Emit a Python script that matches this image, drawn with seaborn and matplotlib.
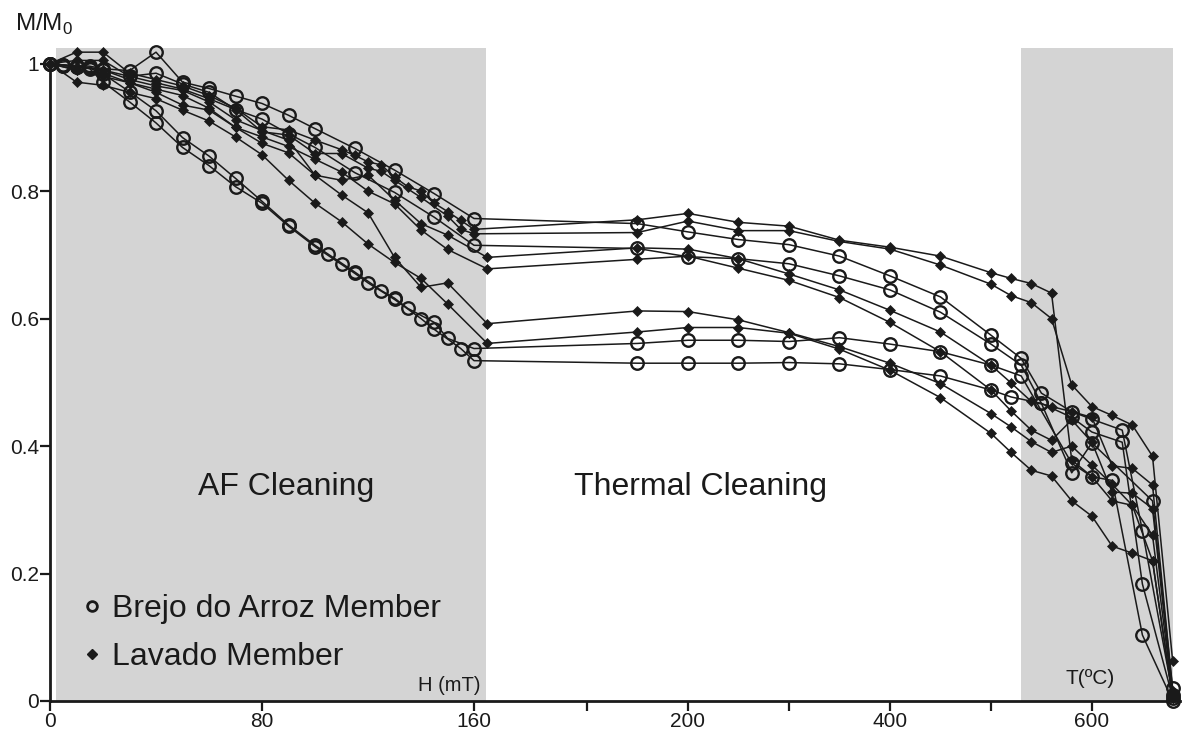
import numpy as np
import pandas as pd
import matplotlib
matplotlib.use('Agg')
import matplotlib.pyplot as plt
from matplotlib.lines import Line2D
import seaborn as sns

# ---- data ----
# AF steps (mT) / thermal steps (degC) and M/M0 for each specimen
# Brejo do Arroz Member (open circles)
c1_af_h = [0, 5, 10, 15, 20, 30, 40, 50, 60, 70, 80, 90, 100, 115, 130, 145, 160]
c1_af_m = [1.0, 0.998, 0.997, 0.996, 0.992, 0.989, 1.018, 0.971, 0.961, 0.949, 0.9375, 0.919, 0.898, 0.867, 0.833, 0.796, 0.757]
c1_th_t = [150, 200, 250, 300, 350, 400, 450, 500, 530, 550, 580, 600, 630, 650, 680]
c1_th_m = [0.749, 0.736, 0.724, 0.716, 0.698, 0.667, 0.634, 0.574, 0.5375, 0.483, 0.454, 0.442, 0.425, 0.267, 0.010]

c2_af_h = [0, 5, 10, 15, 20, 30, 40, 50, 60, 70, 80, 90, 100, 115, 130, 145, 160]
c2_af_m = [1.0, 0.997, 0.995, 0.994, 0.990, 0.980, 0.985, 0.968, 0.955, 0.928, 0.913, 0.890, 0.8685, 0.829, 0.798, 0.759, 0.715]
c2_th_t = [150, 200, 250, 300, 350, 400, 450, 500, 530, 550, 580, 600, 630, 650, 680]
c2_th_m = [0.710, 0.697, 0.694, 0.686, 0.667, 0.645, 0.610, 0.560, 0.527, 0.467, 0.445, 0.422, 0.406, 0.1835, 0.005]

c3_af_h = [0, 5, 10, 15, 20, 30, 40, 50, 60, 70, 80, 90, 100, 105, 115, 125, 130, 135, 145, 150, 160]
c3_af_m = [1.0, 0.998, 0.996, 0.993, 0.984, 0.956, 0.926, 0.884, 0.855, 0.820, 0.784, 0.747, 0.715, 0.701, 0.673, 0.644, 0.632, 0.616, 0.594, 0.569, 0.553]
c3_th_t = [150, 200, 250, 300, 350, 400, 450, 500, 530, 580, 600, 620, 650, 680]
c3_th_m = [0.561, 0.566, 0.566, 0.564, 0.570, 0.560, 0.548, 0.527, 0.510, 0.373, 0.352, 0.346, 0.1035, 0.0]

c4_af_h = [0, 5, 10, 15, 20, 30, 40, 50, 60, 70, 80, 90, 100, 110, 115, 120, 130, 140, 145, 155, 160]
c4_af_m = [1.0, 0.997, 0.995, 0.992, 0.971, 0.940, 0.907, 0.8685, 0.840, 0.807, 0.781, 0.745, 0.713, 0.685, 0.671, 0.656, 0.630, 0.600, 0.583, 0.553, 0.534]
c4_th_t = [150, 200, 250, 300, 350, 400, 450, 500, 520, 550, 580, 600, 660, 680]
c4_th_m = [0.530, 0.530, 0.530, 0.531, 0.529, 0.520, 0.510, 0.488, 0.477, 0.467, 0.358, 0.405, 0.314, 0.02]

# Lavado Member (filled diamonds)
d_th_t = [150, 200, 250, 300, 350, 400, 450, 500, 520, 540, 560, 580, 600, 620, 640, 660, 680]

d1_af_h = [0, 10, 20, 30, 40, 50, 60, 70, 80, 90, 100, 110, 115, 120, 125, 130, 135, 140, 145, 150, 155, 160]
d1_af_m = [1.0, 1.018, 1.018, 0.985, 0.975, 0.965, 0.950, 0.930, 0.901, 0.896, 0.880, 0.865, 0.856, 0.846, 0.841, 0.822, 0.807, 0.800, 0.781, 0.768, 0.754, 0.740]
d1_th_m = [0.755, 0.765, 0.751, 0.745, 0.723, 0.712, 0.698, 0.672, 0.663, 0.655, 0.640, 0.378, 0.352, 0.314, 0.307, 0.260, 0.010]

d2_af_h = [0, 10, 20, 30, 40, 50, 60, 70, 80, 90, 100, 110, 120, 125, 130, 140, 150, 155, 160]
d2_af_m = [1.0, 1.005, 1.005, 0.980, 0.970, 0.960, 0.945, 0.928, 0.893, 0.888, 0.859, 0.859, 0.836, 0.831, 0.817, 0.790, 0.761, 0.740, 0.733]
d2_th_m = [0.735, 0.753, 0.738, 0.738, 0.721, 0.709, 0.684, 0.654, 0.636, 0.625, 0.600, 0.496, 0.462, 0.448, 0.433, 0.384, 0.062]

d_af_h = [0, 10, 20, 30, 40, 50, 60, 70, 80, 90, 100, 110, 120, 130, 140, 150, 165]
d3_af_m = [1.0, 0.995, 0.990, 0.975, 0.965, 0.958, 0.940, 0.912, 0.895, 0.880, 0.825, 0.817, 0.825, 0.786, 0.749, 0.731, 0.696]
d3_th_m = [0.711, 0.709, 0.694, 0.670, 0.645, 0.613, 0.579, 0.527, 0.499, 0.470, 0.462, 0.454, 0.445, 0.369, 0.365, 0.339, 0.015]
d4_af_m = [1.0, 0.990, 0.980, 0.970, 0.960, 0.950, 0.930, 0.900, 0.885, 0.870, 0.850, 0.830, 0.800, 0.780, 0.739, 0.7085, 0.678]
d4_th_m = [0.693, 0.698, 0.679, 0.660, 0.633, 0.594, 0.548, 0.488, 0.455, 0.425, 0.409, 0.441, 0.406, 0.328, 0.326, 0.302, 0.010]
d5_af_m = [1.0, 0.990, 0.985, 0.970, 0.955, 0.935, 0.927, 0.900, 0.875, 0.860, 0.825, 0.794, 0.766, 0.696, 0.649, 0.656, 0.592]
d5_th_m = [0.612, 0.611, 0.598, 0.578, 0.556, 0.530, 0.498, 0.451, 0.430, 0.407, 0.390, 0.400, 0.370, 0.340, 0.307, 0.220, 0.005]
d6_af_m = [1.0, 0.971, 0.966, 0.955, 0.945, 0.927, 0.910, 0.885, 0.857, 0.817, 0.781, 0.752, 0.717, 0.688, 0.663, 0.623, 0.561]
d6_th_m = [0.579, 0.586, 0.586, 0.577, 0.552, 0.519, 0.476, 0.420, 0.390, 0.362, 0.353, 0.314, 0.290, 0.243, 0.232, 0.220, 0.005]

brejo = 'Brejo do Arroz Member'
lavado = 'Lavado Member'


# the x axis is split: AF field (mT) on the left, temperature (degC) on the right
def pos_af(h):
    return np.asarray(h, float)


def pos_th(t):
    return 164.5 + 0.3811 * np.asarray(t, float)


series = [
    ('c1', brejo, c1_af_h, c1_af_m, c1_th_t, c1_th_m),
    ('c2', brejo, c2_af_h, c2_af_m, c2_th_t, c2_th_m),
    ('c3', brejo, c3_af_h, c3_af_m, c3_th_t, c3_th_m),
    ('c4', brejo, c4_af_h, c4_af_m, c4_th_t, c4_th_m),
    ('d1', lavado, d1_af_h, d1_af_m, d_th_t, d1_th_m),
    ('d2', lavado, d2_af_h, d2_af_m, d_th_t, d2_th_m),
    ('d3', lavado, d_af_h, d3_af_m, d_th_t, d3_th_m),
    ('d4', lavado, d_af_h, d4_af_m, d_th_t, d4_th_m),
    ('d5', lavado, d_af_h, d5_af_m, d_th_t, d5_th_m),
    ('d6', lavado, d_af_h, d6_af_m, d_th_t, d6_th_m),
]

rows = []
for name, member, ah, am, tt, tm in series:
    x = np.concatenate([pos_af(ah), pos_th(tt)])
    y = np.concatenate([am, tm])
    rows.append(pd.DataFrame({'sample': name, 'member': member, 'pos': x, 'M': y}))
df = pd.concat(rows, ignore_index=True)

sns.set_style('ticks')
plt.rcParams['font.family'] = ['Liberation Sans', 'DejaVu Sans']
plt.rcParams['mathtext.fontset'] = 'custom'
plt.rcParams['mathtext.rm'] = 'Liberation Sans'

ink = '#1a1a1a'
fig = plt.figure(figsize=(11.82, 7.32), dpi=100)
ax = fig.add_axes([50 / 1182, 31 / 732, 1130 / 1182, 653.3 / 732])

# shaded AF and high-temperature zones
ax.axvspan(2.3, 164.4, color='#d4d4d4', lw=0, zorder=0)
ax.axvspan(pos_th(530), pos_th(680), color='#d4d4d4', lw=0, zorder=0)

sns.lineplot(data=df[df.member == lavado], x='pos', y='M', units='sample', estimator=None,
             sort=False, color=ink, lw=1.1, marker='D', markersize=5.5, markerfacecolor=ink,
             markeredgecolor=ink, markeredgewidth=0.5, clip_on=False, ax=ax, legend=False)
sns.lineplot(data=df[df.member == brejo], x='pos', y='M', units='sample', estimator=None,
             sort=False, color=ink, lw=1.1, marker='o', markersize=9, markerfacecolor='none',
             markeredgecolor=ink, markeredgewidth=1.7, clip_on=False, ax=ax, legend=False)

ax.set_xlim(0, 426.4)
ax.set_ylim(0, 1.025)

xt = list(pos_af([0, 80, 160])) + list(pos_th([100, 200, 300, 400, 500, 600]))
xl = ['0', '80', '160', '', '200', '', '400', '', '600']
ax.set_xticks(xt)
ax.set_xticklabels(xl)
ax.set_yticks([0, 0.2, 0.4, 0.6, 0.8, 1.0])
ax.set_yticklabels(['0', '0.2', '0.4', '0.6', '0.8', '1'])
ax.tick_params(axis='both', direction='out', length=7, width=1.6, color=ink,
               labelsize=15, labelcolor=ink, pad=1)
ax.set_xlabel('')
ax.set_ylabel('')

for s in ['top', 'right']:
    ax.spines[s].set_visible(False)
for s in ['left', 'bottom']:
    ax.spines[s].set_linewidth(2)
    ax.spines[s].set_color(ink)
ax.spines['left'].set_bounds(0, 1)

fig.text(15 / 1182, 1 - 24 / 732, r'M/M$_\mathregular{0}$', fontsize=17.5, color=ink,
         ha='left', va='center')

ax.text(pos_af(89), 0.335, 'AF Cleaning', fontsize=23, color=ink, ha='center', va='center')
ax.text(pos_th(212), 0.335, 'Thermal Cleaning', fontsize=23, color=ink, ha='center', va='center')
ax.text(pos_af(150.5), 0.024, 'H (mT)', fontsize=14.5, color=ink, ha='center', va='center')
ax.text(pos_th(598), 0.036, 'T(ºC)', fontsize=15, color=ink, ha='center', va='center')

handles = [
    Line2D([], [], ls='none', marker='o', ms=7, mfc='none', mec=ink, mew=2),
    Line2D([], [], ls='none', marker='D', ms=5, mfc=ink, mec=ink),
]
ax.legend(handles, [brejo, lavado], loc='upper left', frameon=False, fontsize=23,
          bbox_to_anchor=(82 / 1182, 1 - 594 / 732), bbox_transform=fig.transFigure,
          borderaxespad=0, borderpad=0, handlelength=0.6, handletextpad=0.35,
          labelspacing=0.56, labelcolor=ink)

fig.savefig('out.png', dpi=100)
